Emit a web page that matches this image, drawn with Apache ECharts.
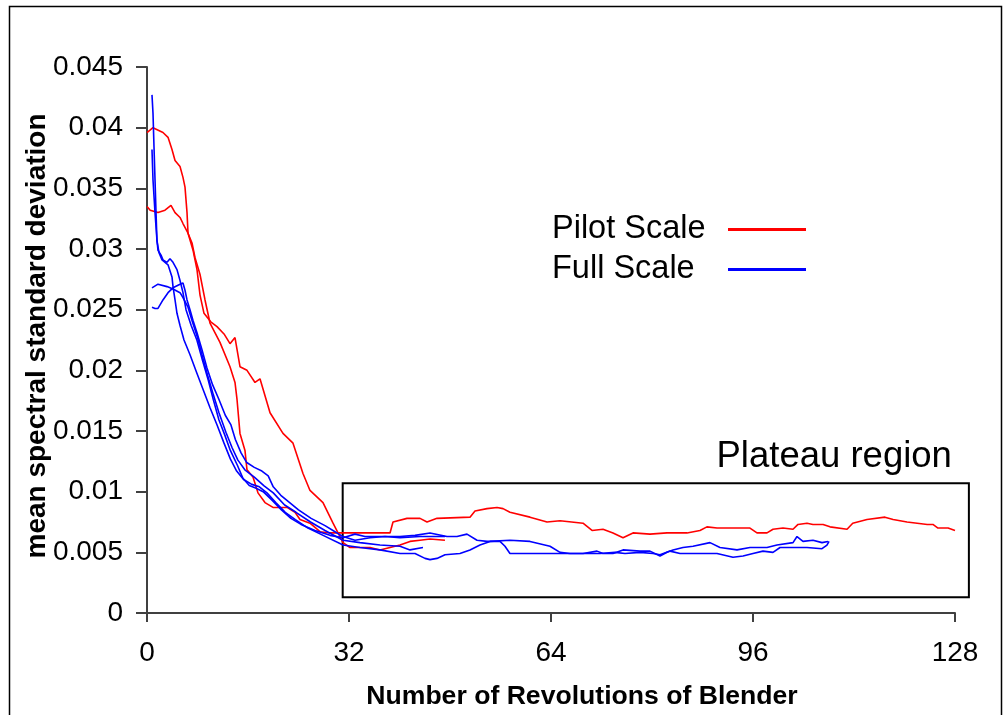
<!DOCTYPE html>
<html>
<head>
<meta charset="utf-8">
<script src="https://cdn.jsdelivr.net/npm/echarts@6/dist/echarts.min.js"></script>
<style>
html,body{margin:0;padding:0;background:#fff;}
#chart{width:1004px;height:715px;}
</style>
</head>
<body>
<div id="chart"></div>
<script>
// ---- data ----
const xTicks = [0, 32, 64, 96, 128];
const seriesNames = ['Pilot Scale', 'Full Scale'];
const plateauX = [31, 130.2];
const plateauY = [0.0013, 0.0107];
const plateauLabel = 'Plateau region';

const pilotRun1 = [[0,0.0396],[0.95,0.0400],[2.53,0.0396],[3.33,0.0392],[3.96,0.0382],[4.44,0.0373],[5.23,0.0368],[5.7,0.0359],[6.02,0.0351],[6.34,0.0330],[6.5,0.0313],[7.13,0.0305],[7.6,0.0293],[8.4,0.0279],[9.19,0.0258],[9.98,0.0239],[11.56,0.0223],[13.15,0.0203],[13.94,0.0190],[14.26,0.0176],[14.73,0.0148],[15.52,0.0134],[15.84,0.0118],[16.79,0.0112],[17.58,0.0099],[18.69,0.0091],[19.96,0.0087],[22.18,0.0087],[23.45,0.0083],[24.24,0.0077],[25.82,0.0074],[27.41,0.0067],[28.99,0.0066],[31.05,0.0066],[35.33,0.0066],[38.5,0.0066],[38.97,0.0075],[41.19,0.0078],[43.25,0.0078],[44.36,0.0075],[45.94,0.0078],[51.17,0.0079],[51.96,0.0084],[53.86,0.0086],[55.45,0.0087],[56.4,0.0086],[57.5,0.0083],[60.67,0.0079],[63.37,0.0075],[65.43,0.0076],[69.07,0.0074],[70.5,0.0068],[72.24,0.0069],[73.82,0.0066],[75.41,0.0062],[76.99,0.0066],[79.68,0.0065],[82.38,0.0066],[85.54,0.0066],[87.6,0.0068],[88.7,0.0071],[90.3,0.0070],[95.52,0.0070],[96.63,0.0066],[98.22,0.0066],[99.17,0.0069],[100.75,0.0070],[102.34,0.0069],[103.13,0.0073],[104.55,0.0074],[105.5,0.0073],[107.1,0.0073],[108.2,0.0071],[110.9,0.0069],[111.8,0.0074],[114.06,0.0077],[116.9,0.0079],[118.2,0.0077],[120.4,0.0075],[123.6,0.0073],[124.5,0.0073],[125.3,0.0070],[126.9,0.0070],[128,0.0068]];

const pilotRun2 = [[0,0.0335],[0.5,0.0332],[1.74,0.0330],[2.85,0.0332],[3.8,0.0336],[4.44,0.0330],[5.23,0.0326],[5.7,0.0321],[6.5,0.0313],[7.29,0.0299],[7.92,0.0283],[8.4,0.0262],[9.03,0.0247],[10.1,0.0240],[11.09,0.0236],[12.2,0.0230],[13.15,0.0222],[13.94,0.0227],[14.73,0.0203],[15.84,0.0200],[17.11,0.0190],[17.9,0.0193],[19.49,0.0165],[21.54,0.0148],[23.13,0.0140],[24.71,0.0115],[25.82,0.0101],[27.88,0.0091],[29.47,0.0074],[30.26,0.0066],[31.05,0.0058],[32.16,0.0054],[35.33,0.0054],[36.91,0.0052],[38.5,0.0054],[40.08,0.0056],[41.66,0.0059],[43.25,0.0060],[44.83,0.0061],[47.2,0.0060]];

const fullRun1 = [[0.79,0.0427],[0.95,0.0412],[1.11,0.0384],[1.27,0.0357],[1.43,0.0330],[1.58,0.0307],[1.74,0.0299],[2.22,0.0295],[2.53,0.0291],[3.17,0.0289],[3.64,0.0292],[4.12,0.0289],[4.75,0.0283],[5.23,0.0274],[5.7,0.0264],[6.18,0.0250],[7.0,0.0237],[7.9,0.0225],[8.8,0.0208],[9.7,0.0192],[10.5,0.0176],[11.4,0.0159],[12.3,0.0147],[13.2,0.0134],[14.3,0.0122],[15.2,0.0111],[16.2,0.0105],[17.2,0.0103],[18.4,0.0100],[19.8,0.0093],[21.3,0.0085],[22.8,0.0078],[24.4,0.0073],[26.61,0.0068],[28.99,0.0064],[31.05,0.0062],[32.95,0.0065],[34.53,0.0063],[36.91,0.0063],[40.08,0.0063],[42.46,0.0064],[44.83,0.0066],[47.52,0.0063],[49.11,0.0063],[50.69,0.0065],[52.28,0.0060],[53.86,0.0059],[55.92,0.0059],[56.71,0.0055],[57.5,0.0049],[60.67,0.0049],[64.95,0.0049],[69.07,0.0049],[71.29,0.0051],[72.24,0.0049],[73.82,0.0049],[75.41,0.0052],[78.1,0.0051],[79.68,0.0051],[81.27,0.0047],[82.38,0.0050],[83.33,0.0052],[84.91,0.0054],[86.5,0.0055],[89.19,0.0058],[90.77,0.0054],[93.47,0.0052],[95.52,0.0054],[98.22,0.0054],[99.8,0.0056],[102.34,0.0058],[102.97,0.0063],[103.92,0.0059],[105.5,0.0060],[106.93,0.0058],[107.88,0.0059]];

const fullRun2 = [[0.79,0.0382],[0.95,0.0357],[1.27,0.0330],[1.58,0.0307],[1.9,0.0297],[2.38,0.0291],[3.33,0.0287],[3.96,0.0277],[4.12,0.0269],[4.44,0.0258],[4.75,0.0247],[5.23,0.0237],[5.86,0.0225],[6.8,0.0213],[7.8,0.0199],[8.9,0.0184],[10.0,0.0169],[11.1,0.0155],[12.2,0.0140],[13.2,0.0127],[14.2,0.0117],[15.3,0.0110],[16.6,0.0106],[17.8,0.0104],[19.0,0.0099],[20.4,0.0091],[21.9,0.0083],[23.5,0.0077],[25.5,0.0070],[27.9,0.0064],[31.05,0.0056],[33.74,0.0054],[36.91,0.0052],[40.08,0.0049],[42.46,0.0049],[44.04,0.0045],[44.83,0.0044],[45.94,0.0045],[47.21,0.0048],[49.58,0.0049],[51.17,0.0052],[52.75,0.0056],[54.34,0.0059],[57.5,0.0060],[60.67,0.0059],[63.84,0.0055],[65.43,0.0050],[67.01,0.0049],[69.07,0.0049],[71.76,0.0049],[74.14,0.0050],[75.72,0.0049],[78.1,0.0050],[80.16,0.0049],[81.27,0.0048],[82.85,0.0051],[84.44,0.0049],[87.6,0.0049],[90.3,0.0049],[92.83,0.0046],[94.42,0.0047],[96.0,0.0049],[97.58,0.0051],[99.17,0.0050],[100.28,0.0054],[102.34,0.0054],[104.55,0.0054],[106.93,0.0053],[107.72,0.0056],[108.04,0.0059]];

const fullRun3 = [[0.79,0.0268],[1.74,0.0271],[3.17,0.0269],[4.12,0.0267],[5.23,0.0264],[5.7,0.0260],[6.5,0.0252],[7.13,0.0241],[8.0,0.0227],[8.7,0.0213],[9.6,0.0196],[10.5,0.0180],[11.4,0.0165],[12.5,0.0149],[13.5,0.0136],[14.4,0.0126],[15.5,0.0118],[17.0,0.0112],[18.5,0.0105],[20.0,0.0099],[21.8,0.0089],[23.6,0.0083],[25.9,0.0075],[28.2,0.0068],[31.05,0.0060],[33.74,0.0058],[36.91,0.0056],[40.08,0.0055],[41.66,0.0052],[43.72,0.0054]];

const fullRun4 = [[0.79,0.0252],[1.27,0.0251],[1.74,0.0251],[2.53,0.0258],[3.33,0.0264],[4.12,0.0268],[5.23,0.0271],[5.7,0.0272],[6.02,0.0266],[6.34,0.0258],[6.81,0.0250],[7.29,0.0241],[7.92,0.0231],[8.71,0.0217],[9.5,0.0202],[10.4,0.0188],[11.4,0.0176],[12.4,0.0163],[13.3,0.0155],[14.0,0.0143],[14.9,0.0132],[15.8,0.0124],[17.0,0.0120],[18.2,0.0117],[19.2,0.0113],[20.0,0.0104],[21.2,0.0097],[22.6,0.0091],[24.0,0.0085],[26.0,0.0078],[28.2,0.0072],[29.78,0.0067],[31.05,0.0063],[32.95,0.0060],[35.33,0.0062],[37.7,0.0063],[40.08,0.0062],[43.25,0.0063],[47.21,0.0063]];

const pilotRuns = [pilotRun1, pilotRun2];
const fullRuns = [fullRun1, fullRun2, fullRun3, fullRun4];

// ---- chart ----
const FONT = '"Liberation Sans", Arial, sans-serif';
const RED = '#ff0000', BLUE = '#0000ff';
const chart = echarts.init(document.getElementById('chart'), null, {renderer: 'canvas'});

function mkSeries(name, data, color) {
  return {
    type: 'line', name: name, data: data, symbol: 'none', smooth: false,
    lineStyle: {color: color, width: 1.6}, itemStyle: {color: color},
    emphasis: {disabled: true}, animation: false
  };
}
const series = [];
pilotRuns.forEach(d => series.push(mkSeries(seriesNames[0], d, RED)));
fullRuns.forEach(d => series.push(mkSeries(seriesNames[1], d, BLUE)));

const axisCol = '#404040';
chart.setOption({
  animation: false,
  backgroundColor: '#ffffff',
  grid: {left: 147, right: 49, top: 67, bottom: 102, containLabel: false},
  legend: {
    data: seriesNames.map(n => ({name: n, icon: 'rect'})),
    orient: 'vertical', align: 'right',
    left: 552, top: 213, padding: 0,
    itemWidth: 78, itemHeight: 3, itemGap: 7,
    formatter: '{t|{name}}',
    textStyle: {
      color: '#000', fontFamily: FONT, fontSize: 32.5,
      rich: {t: {width: 171, lineHeight: 32, align: 'left', fontSize: 32.5, fontFamily: FONT, color: '#000'}}
    },
    selectedMode: false
  },
  xAxis: {
    type: 'value', min: 0, max: 128, interval: 32,
    name: 'Number of Revolutions of Blender',
    nameLocation: 'middle', nameGap: 70, nameMoveOverlap: false,
    nameTextStyle: {fontFamily: FONT, fontSize: 26.6, fontWeight: 'bold', color: '#000', padding: [0, 0, 0, 62]},
    axisLine: {show: true, onZero: false, lineStyle: {color: axisCol, width: 2}},
    axisTick: {show: true, inside: false, length: 9, lineStyle: {color: axisCol, width: 2}},
    axisLabel: {
      fontFamily: FONT, fontSize: 28, color: '#000', margin: 26,
      formatter: v => xTicks.indexOf(v) >= 0 ? String(v) : ''
    },
    splitLine: {show: false}
  },
  yAxis: {
    type: 'value', min: 0, max: 0.045, interval: 0.005,
    name: 'mean spectral standard deviation',
    nameLocation: 'middle', nameGap: 96, nameMoveOverlap: false,
    nameTextStyle: {fontFamily: FONT, fontSize: 28, fontWeight: 'bold', color: '#000', padding: [0, 0, 0, 8]},
    axisLine: {show: true, lineStyle: {color: axisCol, width: 2}},
    axisTick: {show: true, inside: false, length: 11, lineStyle: {color: axisCol, width: 2}},
    axisLabel: {
      fontFamily: FONT, fontSize: 28, color: '#000', margin: 24,
      formatter: v => String(parseFloat(v.toFixed(3)))
    },
    splitLine: {show: false}
  },
  series: series
});

// plateau box + outer frame, positioned via the chart's own scales
function drawOverlay() {
  const p0 = chart.convertToPixel({gridIndex: 0}, [plateauX[0], plateauY[1]]);
  const p1 = chart.convertToPixel({gridIndex: 0}, [plateauX[1], plateauY[0]]);
  chart.setOption({
    graphic: [
      {type: 'rect', id: 'frame', left: 7, top: 4, silent: true,
       shape: {width: 992, height: 740},
       style: {fill: 'none', stroke: '#000', lineWidth: 1.5}},
      {type: 'rect', id: 'plateau', silent: true,
       shape: {x: p0[0], y: p0[1], width: p1[0] - p0[0], height: p1[1] - p0[1]},
       style: {fill: 'none', stroke: '#000', lineWidth: 2}},
      {type: 'text', id: 'plateauText', silent: true,
       x: p1[0] - 17, y: p0[1] - 26,
       style: {text: plateauLabel, fontFamily: FONT, fontSize: 36.5, fill: '#000',
               align: 'right', verticalAlign: 'middle'}}
    ]
  });
}
drawOverlay();
</script>
</body>
</html>
